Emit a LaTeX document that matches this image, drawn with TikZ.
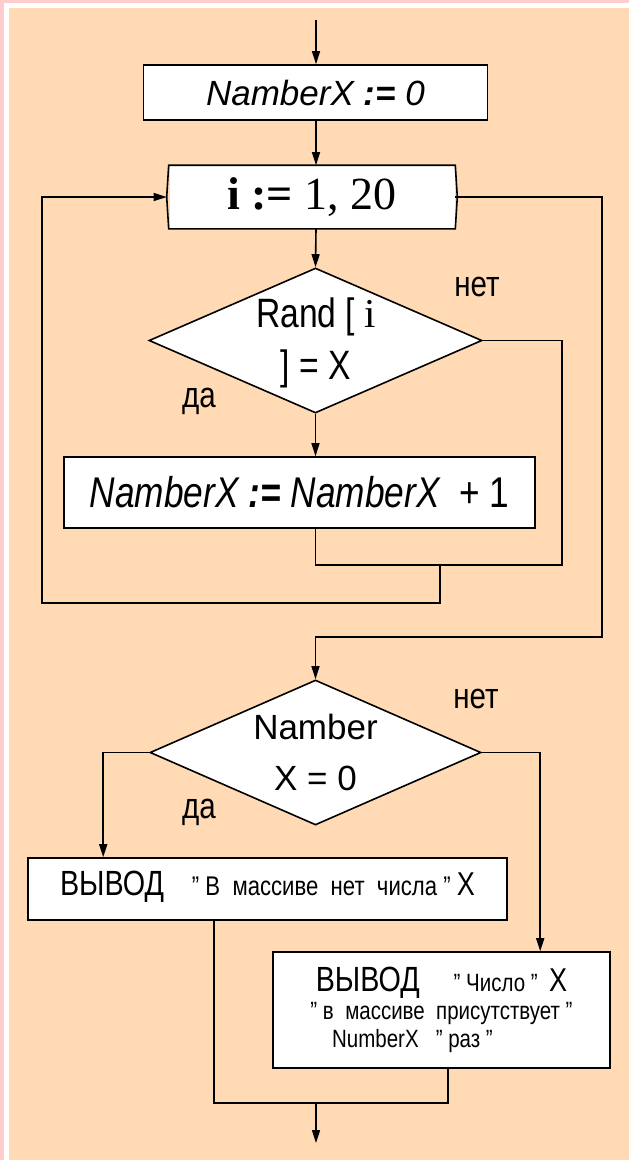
\documentclass[tikz,border=0pt]{standalone}
\usepackage{fontspec}
\setmainfont{Liberation Sans}
\newfontfamily\narrowfont[FakeStretch=0.82]{Liberation Sans}
\newfontfamily\timesfont{Liberation Serif}
\usetikzlibrary{shapes.geometric,arrows.meta}
\definecolor{peach}{HTML}{FFDAB5}
\definecolor{rosebg}{HTML}{FFCDCD}

\begin{document}
\begin{tikzpicture}[x=1pt, y=-1pt, line width=1.6pt]
            \useasboundingbox (0,0) rectangle (629,1160);
            \fill[rosebg] (0,0) rectangle (629,1160);
            \fill[white] (4,3) rectangle (629,1160);
            \fill[peach] (9,8) rectangle (629,1160);

            \coordinate (top) at (316,20);
            \coordinate (bot) at (316,1143);

            \begin{scope}[every node/.style={draw, fill=white, rectangle, inner sep=0pt}]
                \node[minimum width=344pt, minimum height=55pt] (init) at (315.5,92.5)
                    {\fontsize{35}{36}\selectfont\itshape NamberX \textbf{:=} 0};
                \node[draw=none, minimum width=285pt, minimum height=62pt] (loop) at (312,197)
                    {\timesfont\fontsize{46}{50}\selectfont\textbf{i :=} 1, 20};
                \node[diamond, minimum width=333pt, minimum height=145pt] (test) at (315.5,340.5) {};
                \node[minimum width=471pt, minimum height=71pt] (incr) at (299.5,492.5)
                    {\narrowfont\fontsize{43}{46}\selectfont\itshape NamberX \textbf{:=} NamberX\ \ \upshape + 1};
                \node[diamond, minimum width=331pt, minimum height=145pt] (check) at (315.5,752.5) {};
                \node[minimum width=479pt, minimum height=62pt, text depth=12pt] (none) at (267.5,889)
                    {\narrowfont\fontsize{27}{27}\selectfont{\fontsize{35}{27}\selectfont ВЫВОД}\hspace{28pt}” В\ \ массиве\ \ нет\ \ числа ”\ {\fontsize{33}{27}\selectfont X}};
                \node[minimum width=337pt, minimum height=116pt, align=center,
                      font=\narrowfont\fontsize{25}{28}\selectfont] (found) at (441.5,1010)
                    {{\fontsize{35}{28}\selectfont ВЫВОД}\hspace{34pt}” Число ”\ \ {\fontsize{33}{28}\selectfont X}\\
                     ” в\ \ массиве\ \ присутствует ”\\
                     NumberX\ \ \ ” раз ”\hspace*{58pt}};
            \end{scope}

            % loop box with slightly pointed sides
            \draw (loop.north west) -- (loop.north east) -- ([xshift=2pt]loop.east)
                -- (loop.south east) -- (loop.south west) -- ([xshift=-2pt]loop.west) -- cycle;

            \begin{scope}[every node/.style={align=center, inner sep=0pt}]
                \node[font=\narrowfont\fontsize{41}{52}\selectfont] (testtxt) at (316,343) {Rand [ {\timesfont i}\\] = X};
                \node[font=\fontsize{35}{51}\selectfont] (checktxt) at (check) {Namber\\X = 0};
                \node[font=\narrowfont\fontsize{36}{40}\selectfont] (no1) at (477,287) {нет};
                \node[font=\narrowfont\fontsize{36}{40}\selectfont] (yes1) at (199,401) {да};
                \node[font=\narrowfont\fontsize{36}{40}\selectfont] (no2) at (476,699) {нет};
                \node[font=\narrowfont\fontsize{36}{40}\selectfont] (yes2) at (199,812) {да};
            \end{scope}

            \coordinate (j1) at (562,565);
            \coordinate (j2) at (440,565);
            \coordinate (j3) at (42,603);
            \coordinate (j4) at (602,637);
            \coordinate (j5) at (316,1103);

            \begin{scope}[every edge/.style={draw=black, line width=1.6pt}, >={Triangle[length=13pt,width=8pt]}]
                \path [->] (top) edge (top |- init.north);
                \path [->] (init.south -| top) edge (top |- loop.north);
                \path [->] (top |- loop.south) edge (test.north);
                \path [->] (test.south) edge (test.south |- incr.north);
                \path [->] (j5) edge (bot);
            \end{scope}

            \begin{scope}[>={Triangle[length=13pt,width=8pt]}]
                \draw (test.east) -| (j1) -- (test.south |- j1) -- (test.south |- incr.south);
                \draw [->] (j2) -- (j2 |- j3) -- (j3) |- ([xshift=-2pt]loop.west);
                \draw [->] (loop.east) -| (j4) -| (check.north);
                \draw [->] (check.west) -| ([xshift=76pt]none.north west);
                \draw [->] (check.east) -| ([xshift=268pt]found.north west);
                \draw ([xshift=187pt]none.south west) |- (j5) -| ([xshift=176pt]found.south west);
            \end{scope}
        \end{tikzpicture}
\end{document}
